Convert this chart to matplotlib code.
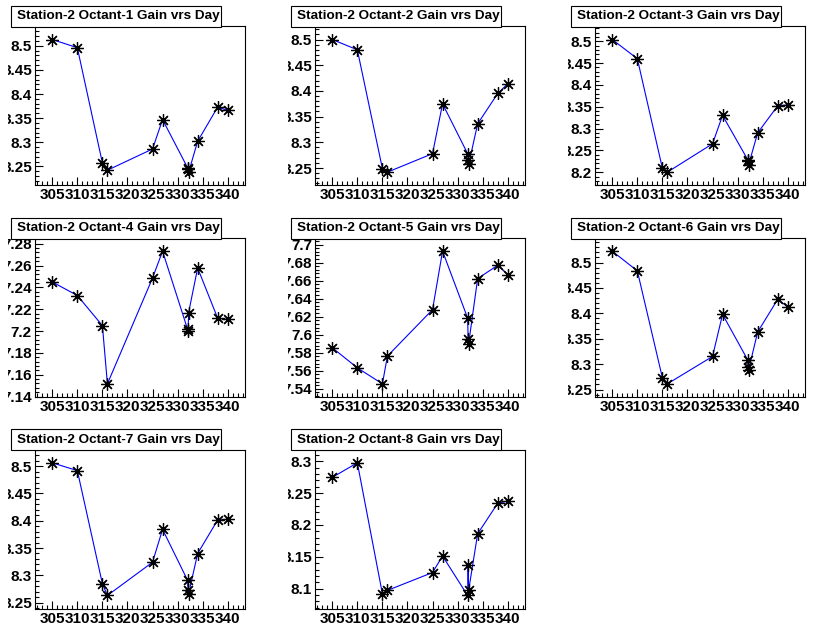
import numpy as np
import matplotlib
matplotlib.use('Agg')
import matplotlib.pyplot as plt
from matplotlib.ticker import MultipleLocator, FuncFormatter
from matplotlib.patches import Rectangle
from matplotlib.transforms import Bbox, TransformedBbox

plt.rcParams['font.family'] = ['Liberation Sans', 'DejaVu Sans']
plt.rcParams['font.weight'] = 'bold'
plt.rcParams['xtick.labelsize'] = 11
plt.rcParams['ytick.labelsize'] = 11

# days of the measurements (same for every octant)
days = [305, 310, 315, 316, 325, 327, 332.0, 332.1, 332.2, 334, 338, 340]

gain_oct1 = [8.513, 8.496, 8.257, 8.242, 8.286, 8.347, 8.247, 8.244, 8.238, 8.302, 8.373, 8.366]
gain_oct2 = [8.500, 8.480, 8.249, 8.242, 8.278, 8.375, 8.278, 8.265, 8.257, 8.336, 8.395, 8.414]
gain_oct3 = [8.504, 8.460, 8.209, 8.200, 8.265, 8.330, 8.229, 8.225, 8.217, 8.290, 8.352, 8.354]
gain_oct4 = [7.245, 7.2326, 7.205, 7.1517, 7.2486, 7.2732, 7.2015, 7.2003, 7.217, 7.2578, 7.2117, 7.2108]
gain_oct5 = [7.5856, 7.5633, 7.5456, 7.5763, 7.6278, 7.6926, 7.6185, 7.5956, 7.590, 7.6622, 7.677, 7.6667]
gain_oct6 = [8.5224, 8.4836, 8.273, 8.2612, 8.3151, 8.398, 8.3086, 8.2941, 8.2888, 8.3632, 8.4276, 8.4125]
gain_oct7 = [8.5062, 8.492, 8.2845, 8.2629, 8.3239, 8.3842, 8.2906, 8.2734, 8.266, 8.3399, 8.4015, 8.4027]
gain_oct8 = [8.2746, 8.2974, 8.0921, 8.0974, 8.1254, 8.1513, 8.0894, 8.137, 8.0974, 8.1862, 8.2339, 8.2376]

gains = [gain_oct1, gain_oct2, gain_oct3, gain_oct4, gain_oct5, gain_oct6, gain_oct7, gain_oct8]
ysteps = [0.05, 0.05, 0.05, 0.02, 0.02, 0.05, 0.05, 0.05]
titles = ['Station-2 Octant-%d Gain vrs Day' % (i+1) for i in range(8)]

W, H = 840., 635.
fig = plt.figure(figsize=(8.4, 6.35), dpi=100)
cellw, cellh = W/3, H/3
gapx, gapy = 0.01*W, 0.01*H     # Divide() margins between the pads
padw, padh = cellw - 2*gapx, cellh - 2*gapy
ml = mr = 0.1*padw
mt = mb = 0.1*padh

fmt = FuncFormatter(lambda v, p: '%g' % round(v, 4))
axes = []
clips = []

for i in range(8):
    r, c = i // 3, i % 3
    px0 = c*cellw + gapx
    py0 = r*cellh + gapy
    ax = fig.add_axes([(px0+ml)/W, 1 - (py0+padh-mb)/H, (padw-ml-mr)/W, (padh-mt-mb)/H])

    g = np.array(gains[i])
    d = np.array(days)
    ax.plot(d, g, color='#0000ff', lw=0.8, zorder=2)
    ax.plot(d, g, ls='none', marker=(8, 2, 0), ms=9, mec='black', mew=0.9, zorder=3)

    # ROOT-like 10% margins around the data
    xr = d.max() - d.min()
    yr = g.max() - g.min()
    ax.set_xlim(d.min() - 0.1*xr, d.max() + 0.1*xr)
    ax.set_ylim(g.min() - 0.1*yr, g.max() + 0.1*yr)

    ax.xaxis.set_major_locator(MultipleLocator(5))
    ax.xaxis.set_minor_locator(MultipleLocator(1))
    ax.yaxis.set_major_locator(MultipleLocator(ysteps[i]))
    ax.yaxis.set_minor_locator(MultipleLocator(ysteps[i]/5))
    ax.yaxis.set_major_formatter(fmt)
    ax.tick_params(which='both', direction='in', top=False, right=False, width=0.8)
    ax.tick_params(which='major', length=6, pad=2)
    ax.tick_params(which='minor', length=3)
    for s in ax.spines.values():
        s.set_linewidth(0.8)

    axes.append(ax)
    clips.append(TransformedBbox(Bbox([[px0/W, 1-(py0+padh)/H], [(px0+padw)/W, 1-py0/H]]),
                                 fig.transFigure))

    # title box
    bx0 = px0 + 2.6
    by0 = r*cellh + 6
    bw, bh = 210, 21
    fig.patches.append(Rectangle((bx0/W, 1-(by0+bh)/H), bw/W, bh/H, transform=fig.transFigure,
                                 facecolor='white', edgecolor='black', lw=0.8, zorder=5))
    fig.text((bx0+6)/W, 1-(by0+bh/2)/H, titles[i], fontsize=9.7, fontweight='bold',
             ha='left', va='center', zorder=6)

fig.canvas.draw()
# labels sticking out of the pad get cut like in ROOT
for ax, clip in zip(axes, clips):
    for lab in ax.get_yticklabels() + ax.get_xticklabels():
        lab.set_fontweight('bold')
        lab.set_clip_on(True)
        lab.set_clip_box(clip)

fig.savefig('out.png', dpi=100)
